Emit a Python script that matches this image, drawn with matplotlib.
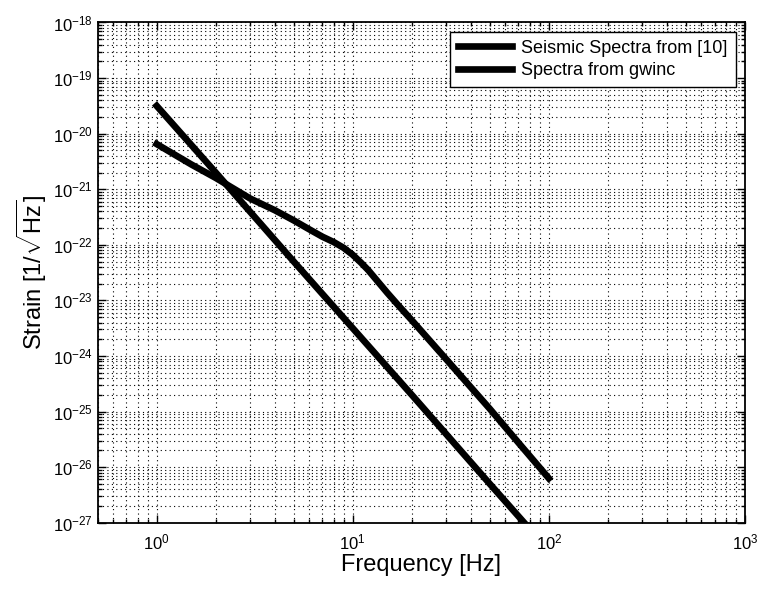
import matplotlib
matplotlib.use('Agg')
import matplotlib.pyplot as plt
from matplotlib.ticker import LogLocator, NullFormatter

plt.rcParams['font.family'] = ['Liberation Sans', 'DejaVu Sans']
plt.rcParams['mathtext.fontset'] = 'custom'
plt.rcParams['mathtext.rm'] = 'Liberation Sans'
plt.rcParams['mathtext.it'] = 'Liberation Sans:italic'
plt.rcParams['mathtext.bf'] = 'Liberation Sans:bold'

# seismic strain spectra (Hz, 1/sqrt(Hz))
freq_ref = [1, 2, 5, 10, 20, 50, 100]
strain_ref = [3.16e-20, 2.0e-21, 5.0e-23, 3.16e-24, 2.0e-25, 5.0e-27, 3.16e-28]

freq_gwinc = [1, 1.5, 2, 3, 4, 5, 6, 7, 8, 9, 10, 11, 12, 13, 15, 17, 20, 30, 50, 70, 100]
strain_gwinc = [6.5e-21, 2.8e-21, 1.6e-21, 6.8e-22, 4.2e-22, 2.75e-22, 1.9e-22,
                1.4e-22, 1.12e-22, 8.8e-23, 6.6e-23, 4.8e-23, 3.5e-23, 2.5e-23,
                1.37e-23, 8.3e-24, 4.4e-24, 8.7e-25, 1.12e-25, 2.75e-26, 6.3e-27]

labels = ['Seismic Spectra from [10]', 'Spectra from gwinc']

fig = plt.figure(figsize=(7.57, 5.92), dpi=100)
ax = fig.add_axes([0.129, 0.117, 0.855, 0.845])

ax.loglog(freq_ref, strain_ref, color='black', lw=4.8, label=labels[0])
ax.loglog(freq_gwinc, strain_gwinc, color='black', lw=4.8, label=labels[1])

ax.set_xlim(0.5, 1000)
ax.set_ylim(1e-27, 1e-18)
ax.xaxis.set_major_locator(LogLocator(base=10, numticks=10))
ax.yaxis.set_major_locator(LogLocator(base=10, numticks=12))
ax.xaxis.set_minor_locator(LogLocator(base=10, subs=range(2, 10), numticks=20))
ax.yaxis.set_minor_locator(LogLocator(base=10, subs=range(2, 10), numticks=20))
ax.xaxis.set_minor_formatter(NullFormatter())
ax.yaxis.set_minor_formatter(NullFormatter())

ax.grid(True, which='major', color='black', linestyle=(0, (1, 3)), linewidth=0.8)
ax.grid(True, which='minor', color='black', linestyle=(0, (1, 3)), linewidth=0.8)

ax.tick_params(which='both', direction='in', top=True, right=True, labelsize=12, width=1)
ax.tick_params(which='major', length=6)
ax.tick_params(which='minor', length=3)
ax.tick_params(axis='x', pad=7)
for s in ax.spines.values():
    s.set_linewidth(1.3)

ax.set_xlabel('Frequency [Hz]', fontsize=17, labelpad=1)
ax.set_ylabel(r'Strain [1/$\sqrt{\mathrm{Hz}}$]', fontsize=17, labelpad=3)

leg = ax.legend(loc='upper right', fontsize=13, frameon=True, fancybox=False,
                edgecolor='black', framealpha=1, handlelength=3.0,
                borderpad=0.45, labelspacing=0.3, handletextpad=0.5,
                borderaxespad=0.5)
leg.get_frame().set_linewidth(1.0)

fig.savefig('out.png', dpi=100)
